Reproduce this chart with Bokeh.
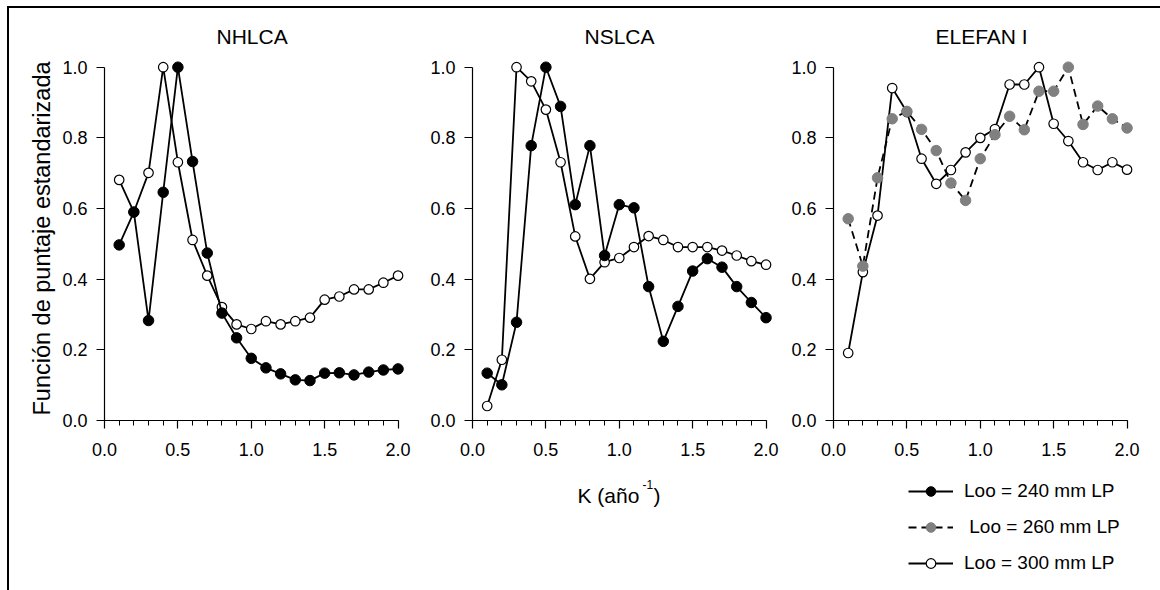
import math

from bokeh.plotting import figure
from bokeh.layouts import row, column
from bokeh.models import (ColumnDataSource, Range1d, SingleIntervalTicker,
                          PrintfTickFormatter, Label, Legend, LegendItem)
from bokeh.embed import file_html
from bokeh.resources import INLINE

# Growth coefficient K (1/year)
k = [0.1, 0.2, 0.3, 0.4, 0.5, 0.6, 0.7, 0.8, 0.9, 1.0,
     1.1, 1.2, 1.3, 1.4, 1.5, 1.6, 1.7, 1.8, 1.9, 2.0]

# Standardised score, NHLCA
nhlca_240 = [0.497, 0.590, 0.283, 0.646, 1.000, 0.733, 0.474, 0.304, 0.234, 0.176,
             0.149, 0.132, 0.115, 0.113, 0.134, 0.135, 0.129, 0.137, 0.143, 0.146]
nhlca_300 = [0.681, 0.590, 0.701, 1.000, 0.731, 0.511, 0.410, 0.321, 0.272, 0.259,
             0.281, 0.272, 0.281, 0.291, 0.342, 0.351, 0.371, 0.371, 0.390, 0.410]

# Standardised score, NSLCA
nslca_240 = [0.134, 0.101, 0.278, 0.778, 1.000, 0.889, 0.611, 0.778, 0.467, 0.611,
             0.602, 0.379, 0.224, 0.323, 0.423, 0.458, 0.434, 0.379, 0.334, 0.291]
nslca_300 = [0.041, 0.172, 1.000, 0.960, 0.880, 0.731, 0.521, 0.401, 0.448, 0.460,
             0.491, 0.522, 0.511, 0.491, 0.491, 0.491, 0.481, 0.467, 0.451, 0.441]

# Standardised score, ELEFAN I
elefan_260 = [0.571, 0.437, 0.687, 0.854, 0.875, 0.824, 0.764, 0.672, 0.623, 0.741,
              0.809, 0.861, 0.823, 0.932, 0.932, 1.000, 0.838, 0.890, 0.854, 0.828]
elefan_300 = [0.191, 0.420, 0.580, 0.941, 0.873, 0.741, 0.670, 0.709, 0.759, 0.800,
              0.825, 0.951, 0.951, 1.000, 0.840, 0.791, 0.731, 0.709, 0.731, 0.710]

series_labels = ["Loo = 240 mm LP", " Loo = 260 mm LP", "Loo = 300 mm LP"]
y_title = "Función de puntaje estandarizada"

x_ticks_interval = 0.5
y_ticks_interval = 0.2

FONT = "Liberation Sans"
LINE_W = 1.8
GREY = "#808080"
TOP_H = 462      # height of the panel row
BOTTOM_H = 120   # strip holding the x title and the legend
LEFT_W = 50      # strip holding the y title


def bare_figure(width, height):
    f = figure(width=width, height=height, min_border=0,
               x_range=Range1d(0, width), y_range=Range1d(0, height),
               x_axis_location=None, y_axis_location=None,
               output_backend="svg", toolbar_location=None)
    f.grid.visible = False
    f.outline_line_color = None
    f.background_fill_color = None
    f.border_fill_color = None
    return f


def make_panel(title, left, right, title_offset):
    p = figure(width=left + 300 + right, height=TOP_H,
               min_border_left=left, min_border_right=right,
               min_border_top=44, min_border_bottom=TOP_H - 44 - 368,
               x_range=Range1d(0, 2.044), y_range=Range1d(0, 1.0416),
               output_backend="svg", toolbar_location=None, title=title)
    p.title.align = "left"
    p.title.offset = title_offset
    p.title.text_font = FONT
    p.title.text_font_size = "21px"
    p.title.text_font_style = "normal"
    p.title.text_color = "black"
    p.title.standoff = 10

    p.grid.visible = False
    p.outline_line_color = None
    p.background_fill_color = None
    p.border_fill_color = None

    p.xaxis.ticker = SingleIntervalTicker(interval=x_ticks_interval, num_minor_ticks=5)
    p.yaxis.ticker = SingleIntervalTicker(interval=y_ticks_interval, num_minor_ticks=0)
    p.xaxis.bounds = (0, 2)
    p.yaxis.bounds = (0, 1)
    p.axis.formatter = PrintfTickFormatter(format="%.1f")
    p.axis.axis_line_color = "black"
    p.axis.axis_line_width = 1.2
    p.axis.major_tick_line_color = "black"
    p.axis.major_tick_line_width = 1.2
    p.axis.major_tick_out = 8
    p.axis.major_tick_in = 0
    p.xaxis.minor_tick_line_color = "black"
    p.xaxis.minor_tick_out = 5
    p.xaxis.minor_tick_in = 0
    p.yaxis.minor_tick_line_color = None
    p.axis.major_label_text_font = FONT
    p.axis.major_label_text_font_size = "18px"
    p.axis.major_label_text_color = "black"
    p.xaxis.major_label_standoff = 14
    p.yaxis.major_label_standoff = 9
    return p


def open_series(p, y, **rng):
    src = ColumnDataSource(dict(k=k, v=y))
    ln = p.line("k", "v", source=src, line_color="black", line_width=LINE_W, **rng)
    mk = p.scatter("k", "v", source=src, size=9.5, marker="circle",
                   fill_color="white", line_color="black", line_width=1.2, **rng)
    return ln, mk


def filled_series(p, y, **rng):
    src = ColumnDataSource(dict(k=k, v=y))
    ln = p.line("k", "v", source=src, line_color="black", line_width=LINE_W, **rng)
    mk = p.scatter("k", "v", source=src, size=10.5, marker="circle",
                   fill_color="black", line_color="black", line_width=1, **rng)
    return ln, mk


def grey_series(p, y, **rng):
    src = ColumnDataSource(dict(k=k, v=y))
    ln = p.line("k", "v", source=src, line_color="black", line_width=LINE_W,
                line_dash="8 5", **rng)
    mk = p.scatter("k", "v", source=src, size=10.5, marker="circle",
                   fill_color=GREY, line_color=GREY, line_width=1, **rng)
    return ln, mk


# y title
ystrip = bare_figure(LEFT_W, TOP_H)
ystrip.add_layout(Label(x=32.7, y=228.5, text=y_title, angle=math.pi / 2,
                        text_align="center", text_baseline="middle",
                        text_font=FONT, text_font_size="23.5px", text_color="black"))

p1 = make_panel("NHLCA", 45, 16, 112)
open_series(p1, nhlca_300)
filled_series(p1, nhlca_240)

p2 = make_panel("NSLCA", 52, 9, 112)
open_series(p2, nslca_300)
filled_series(p2, nslca_240)

p3 = make_panel("ELEFAN I", 52, 27, 102)
open_series(p3, elefan_300)
grey_series(p3, elefan_260)

# Bottom strip: pixel-like coordinates, no axes; holds the K title and legend
strip = bare_figure(1151, BOTTOM_H)

label_style = dict(text_font=FONT, text_color="black", text_baseline="alphabetic")
strip.add_layout(Label(x=568, y=95, text="K (año", text_font_size="21px", **label_style))
strip.add_layout(Label(x=633, y=106, text="-1", text_font_size="12px", **label_style))
strip.add_layout(Label(x=644, y=95, text=")", text_font_size="21px", **label_style))

# legend swatches: series drawn on ranges that keep them off the strip
strip.extra_x_ranges = {"swatch_x": Range1d(10, 20)}
strip.extra_y_ranges = {"swatch_y": Range1d(10, 20)}
off = dict(x_range_name="swatch_x", y_range_name="swatch_y")
r240 = filled_series(strip, nhlca_240, **off)
r260 = grey_series(strip, elefan_260, **off)
r300 = open_series(strip, elefan_300, **off)

legend = Legend(
    items=[LegendItem(label=series_labels[0], renderers=list(r240)),
           LegendItem(label=series_labels[1], renderers=list(r260)),
           LegendItem(label=series_labels[2], renderers=list(r300))],
    location=(899, 15), orientation="vertical",
    glyph_width=45, glyph_height=24, label_height=24, spacing=12,
    padding=0, margin=0, label_standoff=11,
    border_line_color=None, background_fill_alpha=0,
    label_text_font=FONT, label_text_font_size="19px", label_text_color="black")
strip.add_layout(legend)

layout = column(row(ystrip, p1, p2, p3), strip,
                styles={"margin-left": "7px", "margin-top": "6px",
                        "border-top": "2px solid black",
                        "border-left": "2px solid black"})

open("out.html", "w").write(file_html(layout, INLINE))
